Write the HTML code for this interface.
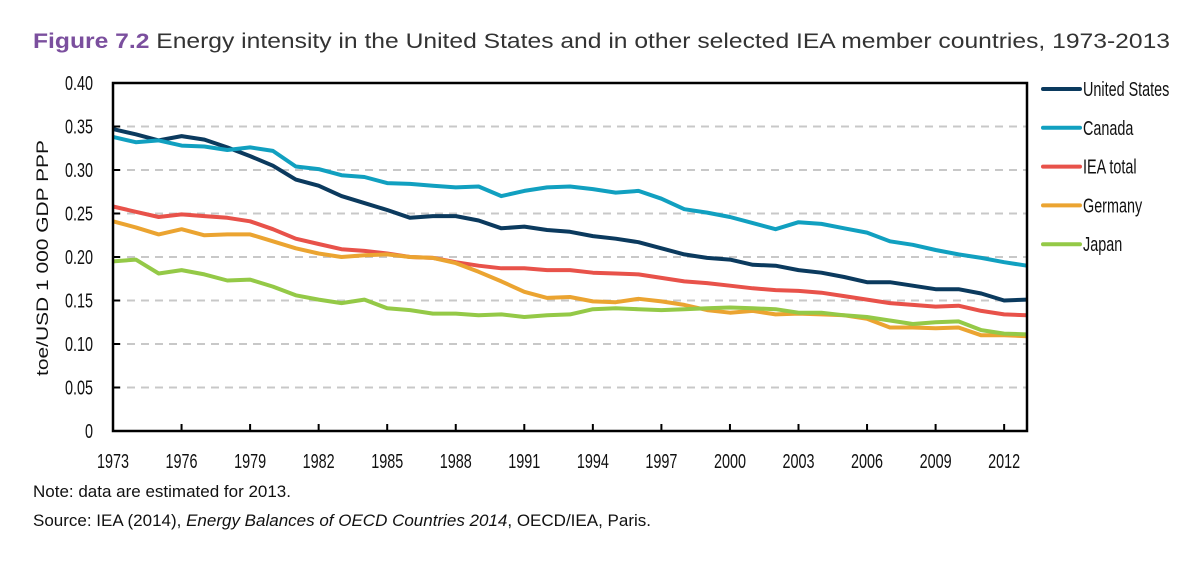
<!DOCTYPE html>
<html><head><meta charset="utf-8"><style>
body{margin:0;background:#fff;width:1200px;height:559px;overflow:hidden;font-family:"Liberation Sans",sans-serif}
</style></head><body>
<svg width="1200" height="559" xmlns="http://www.w3.org/2000/svg">
<text x="33" y="48" font-size="21" fill="#333" textLength="1137" lengthAdjust="spacingAndGlyphs"><tspan font-weight="bold" fill="#7b4f9e">Figure 7.2</tspan>  Energy intensity in the United States and in other selected IEA member countries, 1973-2013</text>
<g id="grid"></g><g id="series"></g><g id="axes"></g><g id="legend"></g>
<text transform="translate(48,258) rotate(-90)" text-anchor="middle" font-size="17" fill="#111" textLength="236" lengthAdjust="spacingAndGlyphs">toe/USD 1 000 GDP PPP</text>
<text x="33" y="497" font-size="17" fill="#111">Note: data are estimated for 2013.</text>
<text x="33" y="526" font-size="17" fill="#111">Source: IEA (2014), <tspan font-style="italic">Energy Balances of OECD Countries 2014</tspan>, OECD/IEA, Paris.</text>
</svg>
<script>
const years=[];for(let y=1973;y<=2013;y++)years.push(y);
const yTicks=[0,0.05,0.10,0.15,0.20,0.25,0.30,0.35,0.40];
const yTickLabels=["0","0.05","0.10","0.15","0.20","0.25","0.30","0.35","0.40"];
const xTickYears=[1973,1976,1979,1982,1985,1988,1991,1994,1997,2000,2003,2006,2009,2012];
const seriesNames=["United States","Canada","IEA total","Germany","Japan"];
const unitedStates=[0.347,0.341,0.334,0.339,0.335,0.326,0.316,0.305,0.289,0.282,0.270,0.262,0.254,0.245,0.247,0.247,0.242,0.233,0.235,0.231,0.229,0.224,0.221,0.217,0.210,0.203,0.199,0.197,0.191,0.190,0.185,0.182,0.177,0.171,0.171,0.167,0.163,0.163,0.158,0.150,0.151];
const canada=[0.338,0.332,0.334,0.328,0.327,0.323,0.326,0.322,0.304,0.301,0.294,0.292,0.285,0.284,0.282,0.280,0.281,0.270,0.276,0.280,0.281,0.278,0.274,0.276,0.267,0.255,0.251,0.246,0.239,0.232,0.240,0.238,0.233,0.228,0.218,0.214,0.208,0.203,0.199,0.194,0.190];
const ieaTotal=[0.258,0.252,0.246,0.249,0.247,0.245,0.241,0.232,0.221,0.215,0.209,0.207,0.204,0.200,0.199,0.194,0.190,0.187,0.187,0.185,0.185,0.182,0.181,0.180,0.176,0.172,0.170,0.167,0.164,0.162,0.161,0.159,0.155,0.151,0.147,0.145,0.143,0.144,0.138,0.134,0.133];
const germany=[0.241,0.234,0.226,0.232,0.225,0.226,0.226,0.218,0.210,0.204,0.200,0.202,0.203,0.200,0.199,0.193,0.183,0.172,0.160,0.153,0.154,0.149,0.148,0.152,0.149,0.145,0.139,0.136,0.138,0.134,0.135,0.134,0.133,0.129,0.119,0.119,0.118,0.119,0.110,0.110,0.109];
const japan=[0.195,0.197,0.181,0.185,0.180,0.173,0.174,0.166,0.156,0.151,0.147,0.151,0.141,0.139,0.135,0.135,0.133,0.134,0.131,0.133,0.134,0.140,0.141,0.140,0.139,0.140,0.141,0.142,0.141,0.140,0.136,0.136,0.133,0.131,0.127,0.123,0.125,0.126,0.116,0.112,0.111];
const allSeries=[unitedStates,canada,ieaTotal,germany,japan];
const colors=["#0b3a5e","#11a0c0","#e8524a","#eba431","#94c947"];
const L=113,R=1027,T=83,B=431;
const xS=y=>L+(y-1973)*(R-L)/40;
const yS=v=>B-v*(B-T)/0.40;
const NS="http://www.w3.org/2000/svg";
function mk(tag,attrs,parent,txt){const e=document.createElementNS(NS,tag);for(const k in attrs)e.setAttribute(k,attrs[k]);if(txt!==undefined)e.textContent=txt;document.getElementById(parent).appendChild(e);return e;}
function ntext(x,y,anchor,txt,parent){return mk('text',{transform:'translate('+x+','+y+') scale(0.72,1)','text-anchor':anchor,'font-size':20,fill:'#111'},parent,txt);}
yTicks.forEach((t,i)=>{
  if(t>0&&t<0.40){const g=mk('line',{x1:L,x2:R,y1:yS(t),y2:yS(t),stroke:'#c8c8c8','stroke-width':2,'stroke-dasharray':'8,6'},'grid');
  
  }
  const tk=mk('line',{x1:L,x2:L+7,y1:yS(t),y2:yS(t),stroke:'#000','stroke-width':2},'axes');
  
  
  const lb=ntext(L-20,yS(t)+7,'end',yTickLabels[i],'axes');
  
  
});
xTickYears.forEach(y=>{
  const tk=mk('line',{x1:xS(y),x2:xS(y),y1:B,y2:B-7,stroke:'#000','stroke-width':2},'axes');
  
  
  const lb=ntext(xS(y),B+37,'middle',String(y),'axes');
  
  
});
const box=mk('rect',{x:L,y:T,width:R-L,height:B-T,fill:'none',stroke:'#000','stroke-width':2.5},'axes');


allSeries.forEach((s,i)=>{
  const d=s.map((v,j)=>(j?'L':'M')+xS(years[j]).toFixed(1)+','+yS(v).toFixed(1)).join('');
  const p=mk('path',{d:d,fill:'none',stroke:colors[i],'stroke-width':4,'stroke-linejoin':'round'},'series');
  
  
  const ly=89+i*38.8;
  const ll=mk('line',{x1:1043,x2:1080,y1:ly,y2:ly,stroke:colors[i],'stroke-width':4,'stroke-linecap':'round'},'legend');
  
  
  const lt=ntext(1083,ly+7,'start',seriesNames[i],'legend');
  
  
});
</script>
</body></html>
